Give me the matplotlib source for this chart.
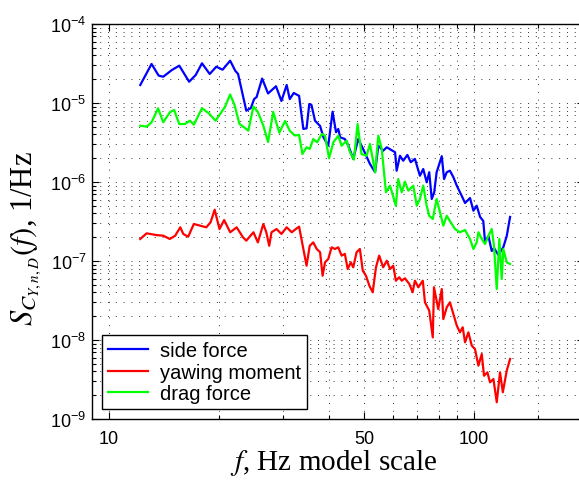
import matplotlib
matplotlib.use("Agg")
import matplotlib.pyplot as plt
from matplotlib.ticker import (FixedLocator, FixedFormatter, LogLocator,
                               LogFormatterSciNotation, NullFormatter)

# spectra of the force/moment coefficients, read per frequency bin
freq_side = [12.2, 13.1, 13.7, 14.1, 14.9, 15.6, 16.6, 17.3, 18.0, 18.9,
             19.7, 20.5, 21.5, 22.2, 22.6, 23.8, 24.5, 25.0, 25.4, 26.3,
             27.3, 28.7, 29.7, 30.7, 31.3, 32.1, 33.2, 34.1, 34.8, 35.4,
             35.9, 36.7, 37.9, 38.7, 39.9, 41.0, 41.9, 42.5, 43.0, 44.3,
             45.3, 46.7, 48.2, 49.7, 51.9, 53.6, 54.7, 56.4, 57.7, 60.8,
             61.4, 62.7, 64.0, 65.7, 67.1, 68.9, 71.1, 72.6, 74.2, 75.4,
             76.6, 77.8, 79.0, 81.6, 82.8, 84.2, 85.9, 87.8, 89.7, 92.5,
             94.5, 97.5, 99.6, 101.7, 103.9, 106.0, 107.2, 109.5, 111.8, 113.4,
             116.6, 120.3, 122.9, 125.5]
psd_side = [1.69e-5, 3.12e-5, 2.22e-5, 2.15e-5, 2.62e-5, 2.97e-5, 1.86e-5, 2.26e-5, 3.18e-5, 2.33e-5,
            2.88e-5, 2.64e-5, 3.43e-5, 2.56e-5, 2.33e-5, 7.99e-6, 8.64e-6, 1.12e-5, 1.19e-5, 2.04e-5,
            1.32e-5, 1.63e-5, 1.06e-5, 1.69e-5, 1.12e-5, 1.34e-5, 1.23e-5, 4.69e-6, 4.78e-6, 9.71e-6,
            9.43e-6, 5.97e-6, 5.12e-6, 3.68e-6, 2.88e-6, 7.76e-6, 4.26e-6, 4.69e-6, 3.68e-6, 3.50e-6,
            2.88e-6, 1.96e-6, 3.50e-6, 2.62e-6, 1.69e-6, 1.33e-6, 2.88e-6, 2.49e-6, 2.75e-6, 2.38e-6,
            1.39e-6, 2.15e-6, 1.86e-6, 2.20e-6, 1.78e-6, 1.96e-6, 1.20e-6, 1.46e-6, 9.91e-7, 1.33e-6,
            6.09e-7, 7.41e-7, 1.33e-6, 2.12e-6, 1.09e-6, 1.33e-6, 1.39e-6, 1.15e-6, 8.98e-7, 6.71e-7,
            5.42e-7, 6.27e-7, 4.33e-7, 5.01e-7, 3.61e-7, 3.21e-7, 1.74e-7, 2.07e-7, 1.34e-7, 1.46e-7,
            1.19e-7, 1.50e-7, 2.07e-7, 3.61e-7]

freq_yaw = [12.2, 12.7, 13.5, 14.1, 14.7, 15.2, 15.7, 16.0, 16.5, 17.1,
            17.8, 18.5, 19.0, 19.5, 20.1, 20.7, 21.5, 22.4, 23.3, 23.8,
            24.9, 25.6, 26.5, 27.0, 27.5, 27.9, 28.8, 29.7, 30.7, 31.7,
            32.7, 33.2, 34.1, 34.8, 35.5, 36.3, 37.1, 37.9, 38.5, 39.1,
            39.9, 40.75, 41.6, 42.5, 43.4, 44.3, 45.1, 46.0, 46.7, 47.7,
            48.7, 49.6, 50.6, 51.7, 52.8, 53.9, 55.0, 56.4, 57.7, 58.9,
            60.1, 61.1, 62.4, 63.4, 64.7, 66.5, 67.9, 68.9, 70.4, 72.4,
            73.4, 75.4, 77.1, 77.7, 79.8, 81.6, 82.4, 84.2, 85.9, 87.8,
            89.7, 91.5, 93.1, 94.5, 96.5, 98.6, 100.6, 102.8, 105.0, 106.5,
            108.8, 110.6, 113.0, 115.4, 117.8, 119.9, 122.9, 125.5]
psd_yaw = [1.90e-7, 2.24e-7, 2.13e-7, 2.09e-7, 1.90e-7, 2.09e-7, 2.67e-7, 2.20e-7, 2.03e-7, 2.94e-7,
           2.80e-7, 2.67e-7, 3.09e-7, 4.46e-7, 2.54e-7, 3.30e-7, 2.31e-7, 2.67e-7, 2.00e-7, 1.81e-7,
           2.31e-7, 1.72e-7, 2.94e-7, 2.31e-7, 1.56e-7, 2.31e-7, 2.54e-7, 2.20e-7, 2.67e-7, 2.31e-7,
           2.59e-7, 2.72e-7, 1.42e-7, 8.72e-8, 1.56e-7, 1.72e-7, 1.42e-7, 1.29e-7, 6.51e-8, 9.63e-8,
           1.06e-7, 1.49e-7, 1.42e-7, 1.49e-7, 1.17e-7, 1.23e-7, 7.92e-8, 9.63e-8, 8.32e-8, 1.29e-7,
           1.42e-7, 7.54e-8, 6.51e-8, 4.87e-8, 4.02e-8, 8.32e-8, 1.17e-7, 8.32e-8, 1.01e-7, 7.92e-8,
           8.72e-8, 5.63e-8, 6.22e-8, 5.63e-8, 6.04e-8, 5.12e-8, 4.02e-8, 5.63e-8, 4.65e-8, 5.63e-8,
           3.00e-8, 2.35e-8, 1.08e-8, 4.65e-8, 2.47e-8, 4.42e-8, 1.84e-8, 2.59e-8, 3.00e-8, 2.13e-8,
           1.52e-8, 1.25e-8, 1.45e-8, 9.35e-9, 1.25e-8, 8.47e-9, 7.69e-9, 4.73e-9, 6.65e-9, 3.53e-9,
           3.90e-9, 2.91e-9, 3.21e-9, 1.63e-9, 3.90e-9, 2.18e-9, 4.09e-9, 5.75e-9]

freq_drag = [12.2, 12.7, 13.1, 13.65, 14.1, 14.7, 15.1, 15.6, 16.15, 16.7,
             17.1, 18.0, 18.8, 19.6, 20.8, 21.5, 22.1, 22.8, 23.6, 24.1,
             24.9, 25.6, 26.5, 27.3, 28.2, 29.3, 30.4, 31.3, 32.3, 33.2,
             33.9, 34.8, 35.5, 36.3, 37.2, 38.3, 39.1, 40.1, 41.2, 42.5,
             43.4, 44.8, 45.7, 46.9, 48.0, 49.2, 50.8, 51.9, 53.6, 54.7,
             55.9, 57.4, 58.9, 61.1, 62.0, 63.4, 64.7, 66.1, 68.2, 69.7,
             71.1, 72.6, 74.2, 75.4, 77.1, 79.0, 80.7, 82.4, 84.2, 85.9,
             88.7, 91.5, 94.5, 97.5, 99.6, 101.7, 102.8, 105.0, 107.2, 109.5,
             111.8, 113.4, 115.4, 117.3, 119.1, 120.3, 122.9, 125.5]
psd_drag = [5.16e-6, 5.01e-6, 5.70e-6, 8.57e-6, 5.70e-6, 7.63e-6, 8.15e-6, 5.42e-6, 5.42e-6, 5.97e-6,
            5.31e-6, 8.57e-6, 7.41e-6, 5.97e-6, 8.90e-6, 1.28e-5, 9.43e-6, 5.42e-6, 4.83e-6, 4.46e-6,
            9.03e-6, 7.69e-6, 5.16e-6, 3.21e-6, 7.69e-6, 4.21e-6, 5.92e-6, 4.46e-6, 3.88e-6, 3.94e-6,
            2.26e-6, 2.75e-6, 2.62e-6, 3.50e-6, 3.18e-6, 4.05e-6, 3.86e-6, 2.00e-6, 3.18e-6, 3.86e-6,
            2.88e-6, 3.33e-6, 2.42e-6, 1.92e-6, 5.42e-6, 2.26e-6, 2.15e-6, 3.03e-6, 1.33e-6, 3.86e-6,
            2.62e-6, 7.41e-7, 8.98e-7, 5.01e-7, 1.09e-6, 7.41e-7, 1.01e-6, 7.76e-7, 8.98e-7, 5.01e-7,
            6.09e-7, 8.98e-7, 5.01e-7, 3.74e-7, 3.40e-7, 6.09e-7, 4.13e-7, 2.80e-7, 3.74e-7, 3.21e-7,
            2.54e-7, 2.31e-7, 2.47e-7, 1.90e-7, 1.42e-7, 1.72e-7, 2.31e-7, 1.90e-7, 1.64e-7, 2.09e-7,
            2.54e-7, 1.56e-7, 4.42e-8, 1.90e-7, 5.92e-8, 1.42e-7, 9.63e-8, 9.16e-8]

series_labels = ["side force", "yawing moment", "drag force"]
x_major_ticks = [10, 50, 100]
x_tick_labels = ["10", "50", "100"]
x_minor_ticks = [20, 30, 40, 60, 70, 80, 90, 150]
y_major_ticks = [1e-9, 1e-8, 1e-7, 1e-6, 1e-5, 1e-4]

plt.rcParams["font.family"] = ["Liberation Sans", "DejaVu Sans"]
plt.rcParams["mathtext.fontset"] = "stix"

fig = plt.figure(figsize=(5.79, 4.85), dpi=100)
# right edge of the axes sits just past the figure border
ax = fig.add_axes([92 / 579, 65 / 485, 492 / 579, 395 / 485])

ax.plot(freq_side, psd_side, color="#0000ff", lw=1.6, label=series_labels[0])
ax.plot(freq_yaw, psd_yaw, color="#ff0000", lw=1.6, label=series_labels[1])
ax.plot(freq_drag, psd_drag, color="#00ff00", lw=1.6, label=series_labels[2])

ax.set_xscale("log")
ax.set_yscale("log")
ax.set_xlim(9, 200)
ax.set_ylim(1e-9, 1e-4)

ax.xaxis.set_major_locator(FixedLocator(x_major_ticks))
ax.xaxis.set_major_formatter(FixedFormatter(x_tick_labels))
ax.xaxis.set_minor_locator(FixedLocator(x_minor_ticks))
ax.xaxis.set_minor_formatter(NullFormatter())
ax.yaxis.set_major_locator(FixedLocator(y_major_ticks))
ax.yaxis.set_major_formatter(LogFormatterSciNotation())
ax.yaxis.set_minor_locator(LogLocator(base=10, subs=range(2, 10), numticks=20))
ax.yaxis.set_minor_formatter(NullFormatter())

ax.tick_params(which="both", direction="in", top=True, right=True, width=0.8, labelsize=13)
ax.tick_params(which="major", length=5)
ax.tick_params(which="minor", length=3)
ax.tick_params(axis="x", pad=8)
ax.tick_params(axis="y", pad=4)
ax.grid(True, which="both", linestyle=(0, (1, 7)), linewidth=0.7, color="0.2")
for spine in ax.spines.values():
    spine.set_linewidth(1.0)

ax.set_xlabel("$f$, Hz model scale", fontfamily="Liberation Serif", fontsize=21)
ax.set_ylabel("$S_{C_{Y,n,D}}(f)$, 1/Hz", fontfamily="Liberation Serif", fontsize=22)
ax.xaxis.set_label_coords((334 - 92) / 492, -0.07)
ax.yaxis.set_label_coords(-0.10, 0.46)

leg = ax.legend(loc="lower left", bbox_to_anchor=(0.02, 0.025), borderaxespad=0,
                fontsize=14.5, handlelength=2.0, handletextpad=0.6, labelspacing=0.12,
                borderpad=0.3, fancybox=False, framealpha=1)
leg.get_frame().set_edgecolor("k")
leg.get_frame().set_linewidth(1.0)

fig.savefig("out.png", dpi=100)
